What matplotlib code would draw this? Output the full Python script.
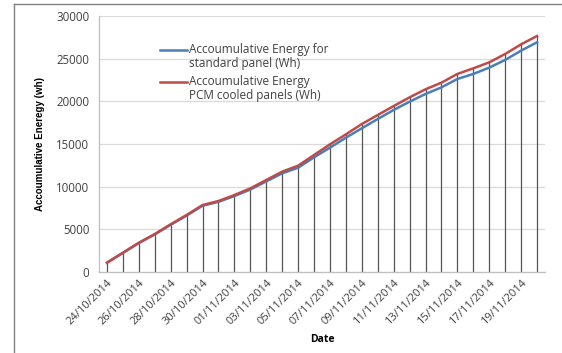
import numpy as np
import matplotlib
matplotlib.use("Agg")
import matplotlib.pyplot as plt
from matplotlib.lines import Line2D

# data
dates = ["24/10/2014", "25/10/2014", "26/10/2014", "27/10/2014", "28/10/2014", "29/10/2014",
         "30/10/2014", "31/10/2014", "01/11/2014", "02/11/2014", "03/11/2014", "04/11/2014",
         "05/11/2014", "06/11/2014", "07/11/2014", "08/11/2014", "09/11/2014", "10/11/2014",
         "11/11/2014", "12/11/2014", "13/11/2014", "14/11/2014", "15/11/2014", "16/11/2014",
         "17/11/2014", "18/11/2014", "19/11/2014", "20/11/2014"]
standard_wh = [1080, 2230, 3390, 4400, 5530, 6610, 7760, 8220, 8900, 9660, 10620, 11560,
               12220, 13440, 14570, 15740, 16840, 17930, 18990, 19960, 20860, 21640, 22620,
               23210, 23950, 24850, 25940, 26920]
pcm_wh = [1100, 2260, 3430, 4450, 5590, 6680, 7850, 8320, 9020, 9800, 10780, 11760,
          12460, 13710, 14960, 16130, 17340, 18400, 19450, 20470, 21410, 22190, 23210,
          23870, 24570, 25550, 26680, 27660]
y_ticks = [0, 5000, 10000, 15000, 20000, 25000, 30000]
series_labels = ["Accoumulative Energy for\nstandard panel (Wh)",
                 "Accoumulative Energy\nPCM cooled panels (Wh)"]

BLUE = "#4a7ebb"
RED = "#be4b48"
TXT = "#404040"
W, H = 562, 353

plt.rcParams['font.family'] = ['Open Sans', 'DejaVu Sans']

fig = plt.figure(figsize=(5.62, 3.53), dpi=100)
ax = fig.add_axes([99 / W, 1 - 272 / H, (545 - 99) / W, (272 - 16) / H])

x = np.arange(len(dates))
ax.vlines(x, 0, np.maximum(standard_wh, pcm_wh), colors="#555555", linewidth=0.9, zorder=2)
ax.plot(x, standard_wh, color=BLUE, linewidth=1.8, zorder=3)
ax.plot(x, pcm_wh, color=RED, linewidth=1.8, zorder=4)

ax.set_xlim(-0.5, len(dates) - 0.5)
ax.set_ylim(0, 30000)
ax.set_yticks(y_ticks)
ax.yaxis.grid(True, color="#d9d9d9", linewidth=0.9)
ax.set_axisbelow(True)
for s in ["top", "right"]:
    ax.spines[s].set_visible(False)
for s in ["left", "bottom"]:
    ax.spines[s].set_color("#bfbfbf")
    ax.spines[s].set_linewidth(0.9)

ax.set_xticks(x[::2])
ax.set_xticklabels(dates[::2], rotation=45, ha="right", va="top", rotation_mode="anchor",
                   fontsize=8, color=TXT)
ax.tick_params(axis="x", length=0, pad=4)
ax.tick_params(axis="y", length=0, pad=7, labelsize=8.3, labelcolor=TXT)

ax.set_ylabel("Accoumulative Eneregy (wh)", fontsize=7, fontweight="bold",
              family=['Liberation Sans', 'DejaVu Sans'], labelpad=8)
ax.set_xlabel("Date", fontsize=7.5, fontweight="bold", labelpad=5)

# legend drawn by hand: Excel puts the key line beside the first text line
for color, label, ly in zip([BLUE, RED], series_labels, [50, 82]):
    fig.add_artist(Line2D([160 / W, 187 / W], [1 - ly / H, 1 - ly / H],
                          transform=fig.transFigure, color=color, linewidth=1.8))
    fig.text(189 / W, 1 - (ly - 7) / H, label, ha="left", va="top", fontsize=8.5,
             color=TXT, linespacing=1.05)

# outer chart frame (only top and left edges visible in the crop)
fig.add_artist(Line2D([14 / W, 14 / W], [0, 1 - 4 / H], transform=fig.transFigure,
                      color="#808080", linewidth=1))
fig.add_artist(Line2D([14 / W, 1], [1 - 4 / H, 1 - 4 / H], transform=fig.transFigure,
                      color="#808080", linewidth=1))

fig.savefig("out.png", dpi=100)
